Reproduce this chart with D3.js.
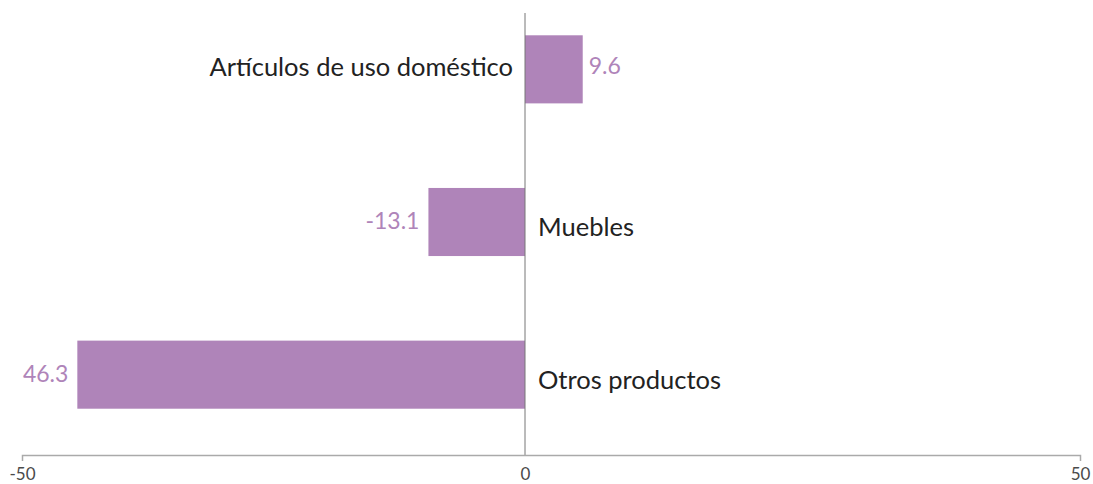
<!DOCTYPE html>
<html>
<head>
<meta charset="utf-8">
<script src="https://cdn.jsdelivr.net/npm/d3@7"></script>
<style>
  html, body { margin: 0; padding: 0; background: #ffffff; }
  svg { display: block; }
</style>
</head>
<body>
<svg id="chart" width="1093" height="484"></svg>
<script>
// ---- data ----
const categories = ["Artículos de uso doméstico", "Muebles", "Otros productos"];
const barValues = [5.2, -9.6, -44.5];          // bar lengths as drawn against the axis
const valueLabels = ["9.6", "-13.1", "46.3"];  // printed labels
const axisTicks = [-50, 0, 50];

// ---- layout ----
const svg = d3.select("#chart");
const purple = "#af84b9";
const font = "Lato, 'Open Sans', sans-serif";

const x = d3.scaleLinear().domain([-50, 0, 50]).range([22, 525, 1080]);
const y = d3.scaleBand().domain(categories).range([-7, 451])
  .paddingInner(0.554).paddingOuter(0.277);

const data = categories.map((c, i) => ({ cat: c, v: barValues[i], label: valueLabels[i] }));

// bars
svg.append("g").selectAll("rect").data(data).join("rect")
  .attr("x", d => x(Math.min(0, d.v)))
  .attr("y", d => y(d.cat))
  .attr("width", d => Math.abs(x(d.v) - x(0)))
  .attr("height", y.bandwidth())
  .attr("fill", purple);

// zero line
svg.append("line")
  .attr("x1", x(0)).attr("x2", x(0))
  .attr("y1", 13).attr("y2", 455)
  .attr("stroke", "#777").attr("stroke-width", 1);

// axis
const axisG = svg.append("g").attr("transform", "translate(0,455)")
  .call(d3.axisBottom(x).tickValues(axisTicks).tickSizeInner(0).tickSizeOuter(6).tickPadding(13)
    .tickFormat(d3.format("d")));
axisG.select(".domain").attr("stroke", "#aaa").attr("stroke-width", 1.5);
axisG.selectAll("text").attr("font-family", font).attr("font-size", 17).attr("fill", "#4a4a4a")
  .text(d => d < 0 ? "-" + Math.abs(d) : d);

// category labels
svg.append("g").selectAll("text").data(data).join("text")
  .attr("x", d => d.v >= 0 ? x(0) - 12 : x(0) + 13)
  .attr("y", d => y(d.cat) + y.bandwidth() / 2 + (d.v >= 0 ? 7 : 14))
  .attr("text-anchor", d => d.v >= 0 ? "end" : "start")
  .attr("font-family", font).attr("font-size", 25.5).attr("fill", "#222")
  .text(d => d.cat);

// value labels
svg.append("g").selectAll("text").data(data).join("text")
  .attr("x", d => d.v >= 0 ? x(d.v) + 6 : x(d.v) - 9)
  .attr("y", d => y(d.cat) + y.bandwidth() / 2 + (d.v >= 0 ? 5 : 7))
  .attr("text-anchor", d => d.v >= 0 ? "start" : "end")
  .attr("font-family", font).attr("font-size", 23).attr("fill", purple)
  .text(d => d.label);
</script>
</body>
</html>
